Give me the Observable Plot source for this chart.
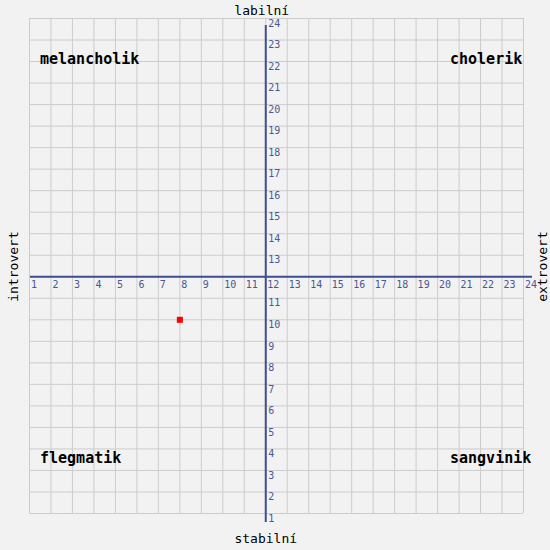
<!DOCTYPE html>
<html>
<head>
<meta charset="utf-8">
<script src="https://cdn.jsdelivr.net/npm/d3@7"></script>
<script src="https://cdn.jsdelivr.net/npm/@observablehq/plot@0.6"></script>
<style>
  html, body { margin: 0; padding: 0; background: #f2f2f2; }
  #chart svg { display: block; }
</style>
</head>
<body>
<div id="chart"></div>
<script>
// ---- data ----
const gridValues = [1, 2, 3, 4, 5, 6, 7, 8, 9, 10, 11, 12, 13, 14, 15, 16, 17, 18, 19, 20, 21, 22, 23, 24];
const xTickLabels = [1, 2, 3, 4, 5, 6, 7, 8, 9, 10, 11, 12, 13, 14, 15, 16, 17, 18, 19, 20, 21, 22, 23, 24];
const yTickLabels = [1, 2, 3, 4, 5, 6, 7, 8, 9, 10, 11, 13, 14, 15, 16, 17, 18, 19, 20, 21, 22, 23, 24];
const axisCenter = 12;
const pointX = [8];
const pointY = [10];
const quadTopLeft = ["melancholik"];
const quadTopRight = ["cholerik"];
const quadBottomLeft = ["flegmatik"];
const quadBottomRight = ["sangvinik"];
const titleTop = ["labilní"];
const titleBottom = ["stabilní"];
const titleLeft = ["introvert"];
const titleRight = ["extrovert"];

const points = pointX.map((x, i) => ({x, y: pointY[i]}));

const axisColor = "#3f4e8c";
const tickColor = "#485895";
const mono = "'DejaVu Sans Mono', 'Liberation Mono', monospace";

const quadStyle = {text: d => d, fontWeight: "bold", fontSize: 15, fill: "#000", textAnchor: "start", lineAnchor: "middle", fontFamily: mono};
const titleStyle = {text: d => d, fontSize: 13, fill: "#000", textAnchor: "middle", lineAnchor: "middle", fontFamily: mono};

const chart = Plot.plot({
  width: 550,
  height: 550,
  marginLeft: 29,
  marginRight: 27,
  marginTop: 18,
  marginBottom: 37,
  x: {domain: [1, 24], axis: null},
  y: {domain: [1, 24], axis: null},
  style: {background: "#f2f2f2", fontFamily: mono},
  marks: [
    Plot.ruleX(gridValues, {x: d => d, stroke: "#cccccc", strokeWidth: 1}),
    Plot.ruleY(gridValues, {y: d => d, stroke: "#cccccc", strokeWidth: 1}),
    Plot.ruleY([axisCenter], {y: d => d, stroke: axisColor, strokeWidth: 2, insetLeft: 1, insetRight: -9}),
    Plot.ruleX([axisCenter], {x: d => d, stroke: axisColor, strokeWidth: 2, insetTop: 7, insetBottom: -9}),
    Plot.text(xTickLabels, {x: d => d, y: axisCenter, text: d => String(d), textAnchor: "start", lineAnchor: "middle", dx: 1.5, dy: 8, fill: tickColor, fontSize: 10, fontFamily: mono}),
    Plot.text(yTickLabels, {x: axisCenter, y: d => d, text: d => String(d), textAnchor: "start", lineAnchor: "middle", dx: 2.5, dy: 5, fill: tickColor, fontSize: 10, fontFamily: mono}),
    Plot.dot(points, {x: "x", y: "y", symbol: "square", r: 3.4, fill: "#ff0000", stroke: null}),
    Plot.text(quadTopLeft, {...quadStyle, frameAnchor: "top-left", dx: 10.5, dy: 40.5}),
    Plot.text(quadTopRight, {...quadStyle, frameAnchor: "top-right", dx: -73.5, dy: 40.5}),
    Plot.text(quadBottomLeft, {...quadStyle, frameAnchor: "bottom-left", dx: 10.5, dy: -55}),
    Plot.text(quadBottomRight, {...quadStyle, frameAnchor: "bottom-right", dx: -73.5, dy: -55}),
    Plot.text(titleTop, {...titleStyle, x: axisCenter, frameAnchor: "top", dx: -4, dy: -7.5}),
    Plot.text(titleBottom, {...titleStyle, x: axisCenter, frameAnchor: "bottom", dx: 0, dy: 25}),
    Plot.text(titleLeft, {...titleStyle, frameAnchor: "left", rotate: -90, dx: -16, dy: 0.5}),
    Plot.text(titleRight, {...titleStyle, frameAnchor: "right", rotate: -90, dx: 19.5, dy: 0.5})
  ]
});

document.getElementById("chart").appendChild(chart);
</script>
</body>
</html>
